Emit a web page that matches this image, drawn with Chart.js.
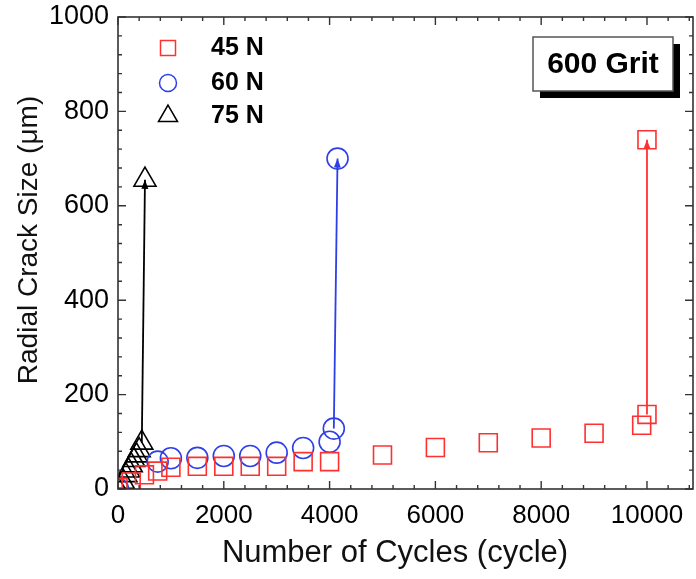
<!DOCTYPE html>
<html>
<head>
<meta charset="utf-8">
<script src="https://cdn.jsdelivr.net/npm/chart.js@4.4.1/dist/chart.umd.min.js"></script>
<style>
  html, body { margin: 0; padding: 0; background: #fff; }
  #wrap { width: 696px; height: 579px; }
</style>
</head>
<body>
<div id="wrap"><canvas id="c" width="696" height="579"></canvas></div>
<script>
// ---- data ----
const seriesNames = ['45 N', '60 N', '75 N'];
const cycles45 = [0, 250, 500, 750, 1000, 1500, 2000, 2500, 3000, 3500, 4000, 5000, 6000, 7000, 8000, 9000, 9900, 10000, 10000];
const crack45  = [3, 15, 30, 38, 46, 48, 48, 48, 48, 58, 58, 72, 88, 98, 108, 118, 135, 158, 740];
const cycles60 = [0, 750, 1000, 1500, 2000, 2500, 3000, 3500, 4000, 4080, 4150];
const crack60  = [0, 58, 65, 66, 70, 70, 77, 87, 100, 128, 700];
const cycles75 = [0, 100, 150, 200, 250, 300, 350, 400, 450, 510];
const crack75  = [0, 15, 29, 39, 50, 61, 71, 82, 98, 655];
const xTicks = [0, 2000, 4000, 6000, 8000, 10000];
const yTicks = [0, 200, 400, 600, 800, 1000];
const xMinorStep = 400, yMinorStep = 40;
const xRange = [0, 10870], yRange = [0, 1000];
const xTitle = 'Number of Cycles (cycle)';
const yTitle = 'Radial Crack Size (\u03bcm)';
const boxLabel = '600 Grit';

const RED = '#ff3030', BLUE = '#2f3fe8', BLACK = '#000000';
const colors = [RED, BLUE, BLACK];
const shapes = ['rect', 'circle', 'triangle'];
const radii = [12.7, 10.5, 12.7];

const toPts = (xs, ys) => xs.map((v, i) => ({ x: v, y: ys[i] }));
const seriesX = [cycles45, cycles60, cycles75];
const seriesY = [crack45, crack60, crack75];

const datasets = [];
seriesX.forEach((xs, i) => {
  datasets.push({
    label: seriesNames[i],
    data: toPts(xs, seriesY[i]),
    showLine: false,
    pointStyle: shapes[i],
    pointRadius: radii[i],
    pointHoverRadius: radii[i],
    pointBorderWidth: 1.6,
    pointBorderColor: colors[i],
    pointBackgroundColor: 'rgba(0,0,0,0)',
    order: 2
  });
});
// jump lines: last two points of each series, with an arrow head
seriesX.forEach((xs, i) => {
  datasets.push({
    label: seriesNames[i] + ' jump',
    data: toPts(xs.slice(-2), seriesY[i].slice(-2)),
    showLine: true,
    borderColor: colors[i],
    borderWidth: 1.8,
    pointRadius: 0,
    fill: false,
    isArrow: true,
    order: 1
  });
});

const FONT = '"Liberation Sans", Arial, Helvetica, sans-serif';

const decor = {
  id: 'decor',
  afterDatasetsDraw(chart) {
    const ctx = chart.ctx;
    chart.data.datasets.forEach((ds, di) => {
      if (!ds.isArrow) return;
      const meta = chart.getDatasetMeta(di);
      const p0 = meta.data[meta.data.length - 2], p1 = meta.data[meta.data.length - 1];
      const ang = Math.atan2(p1.y - p0.y, p1.x - p0.x);
      const L = 9, W = 3.5;
      ctx.save();
      ctx.fillStyle = ds.borderColor;
      ctx.translate(p1.x, p1.y);
      ctx.rotate(ang);
      ctx.beginPath();
      ctx.moveTo(0, 0);
      ctx.lineTo(-L, -W);
      ctx.lineTo(-L, W);
      ctx.closePath();
      ctx.fill();
      ctx.restore();
    });
  },
  afterDraw(chart) {
    const ctx = chart.ctx, a = chart.chartArea, xs = chart.scales.x, ys = chart.scales.y;
    ctx.save();
    // frame
    ctx.strokeStyle = '#333';
    ctx.lineWidth = 1.6;
    ctx.strokeRect(a.left, a.top, a.right - a.left, a.bottom - a.top);
    // inward ticks on all four sides
    ctx.lineWidth = 1.4;
    const major = 8, minor = 4;
    ctx.beginPath();
    for (let v = xRange[0]; v <= xRange[1] + 1e-6; v += xMinorStep) {
      const px = xs.getPixelForValue(v);
      const len = xTicks.includes(v) ? major : minor;
      ctx.moveTo(px, a.bottom); ctx.lineTo(px, a.bottom - len);
      ctx.moveTo(px, a.top); ctx.lineTo(px, a.top + len);
    }
    for (let v = yRange[0]; v <= yRange[1] + 1e-6; v += yMinorStep) {
      const py = ys.getPixelForValue(v);
      const len = yTicks.includes(Math.round(v)) ? major : minor;
      ctx.moveTo(a.left, py); ctx.lineTo(a.left + len, py);
      ctx.moveTo(a.right, py); ctx.lineTo(a.right - len, py);
    }
    ctx.stroke();

    // axis titles
    ctx.fillStyle = '#111';
    ctx.font = '31px ' + FONT;
    ctx.textAlign = 'center';
    ctx.textBaseline = 'middle';
    ctx.fillText(xTitle, 395, 553);
    ctx.font = '28px ' + FONT;
    ctx.save();
    ctx.translate(29, 240);
    ctx.rotate(-Math.PI / 2);
    ctx.fillText(yTitle, 0, 0);
    ctx.restore();

    // legend
    const lx = 168, ly = [48, 83, 116];
    ctx.lineWidth = 1.5;
    ly.forEach((yy, i) => {
      ctx.strokeStyle = colors[i];
      ctx.beginPath();
      if (shapes[i] === 'rect') {
        ctx.rect(lx - 7.5, yy - 7.5, 15, 15);
      } else if (shapes[i] === 'circle') {
        ctx.arc(lx, yy, 8.5, 0, Math.PI * 2);
      } else {
        const r = 11;
        ctx.moveTo(lx, yy - r);
        ctx.lineTo(lx + r * Math.sin(Math.PI / 3), yy + r / 2);
        ctx.lineTo(lx - r * Math.sin(Math.PI / 3), yy + r / 2);
        ctx.closePath();
      }
      ctx.stroke();
      ctx.fillStyle = '#000';
      ctx.font = 'bold 25px ' + FONT;
      ctx.textAlign = 'left';
      ctx.fillText(seriesNames[i], 211, yy);
    });

    // "600 Grit" box with drop shadow
    const bx = 533, by = 37, bw = 140, bh = 54, off = 7;
    ctx.fillStyle = '#000';
    ctx.fillRect(bx + off, by + off, bw, bh);
    ctx.fillStyle = '#fff';
    ctx.fillRect(bx, by, bw, bh);
    ctx.strokeStyle = '#555';
    ctx.lineWidth = 1.5;
    ctx.strokeRect(bx, by, bw, bh);
    ctx.fillStyle = '#000';
    ctx.font = 'bold 30px ' + FONT;
    ctx.textAlign = 'center';
    ctx.fillText(boxLabel, bx + bw / 2, by + bh / 2 + 1);
    ctx.restore();
  }
};

new Chart(document.getElementById('c'), {
  type: 'scatter',
  data: { datasets },
  options: {
    responsive: false,
    animation: false,
    layout: { autoPadding: false, padding: { left: 0, right: 3, top: 17, bottom: 0 } },
    plugins: { legend: { display: false }, tooltip: { enabled: false } },
    scales: {
      x: {
        type: 'linear',
        min: xRange[0], max: xRange[1],
        afterBuildTicks: s => { s.ticks = xTicks.map(v => ({ value: v })); },
        afterFit: s => { s.height = 90; s.paddingLeft = 0; s.paddingRight = 0; },
        grid: { display: false, drawTicks: false },
        border: { display: false },
        ticks: { color: '#000', font: { family: FONT, size: 26 }, padding: 11, maxRotation: 0, autoSkip: false,
                 callback: v => String(v) }
      },
      y: {
        type: 'linear',
        min: yRange[0], max: yRange[1],
        afterBuildTicks: s => { s.ticks = yTicks.map(v => ({ value: v })); },
        afterFit: s => { s.width = 118; s.paddingTop = 0; s.paddingBottom = 0; },
        grid: { display: false, drawTicks: false },
        border: { display: false },
        ticks: { color: '#000', font: { family: FONT, size: 27 }, padding: 9, autoSkip: false,
                 callback: v => String(v) }
      }
    }
  },
  plugins: [decor]
});
</script>
</body>
</html>
